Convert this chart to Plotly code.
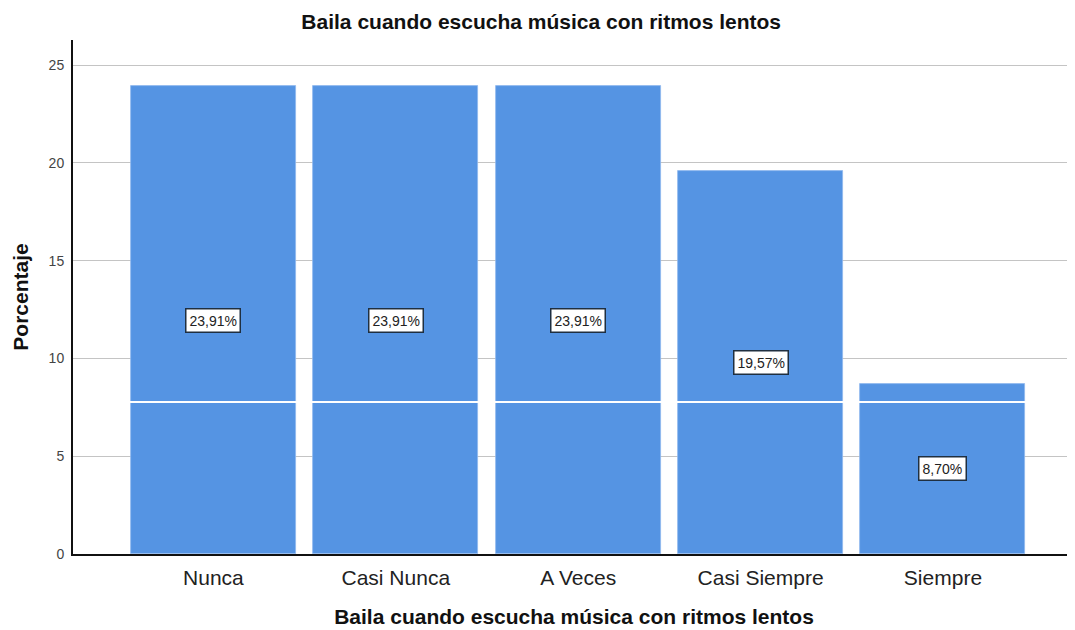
import plotly.graph_objects as go

categories = ["Nunca", "Casi Nunca", "A Veces", "Casi Siempre", "Siempre"]
values = [23.91, 23.91, 23.91, 19.57, 8.70]
labels = ["23,91%", "23,91%", "23,91%", "19,57%", "8,70%"]
title = "Baila cuando escucha música con ritmos lentos"

FONT = "Liberation Sans, Arial, sans-serif"
BAR = "#5594e3"

fig = go.Figure()
fig.add_trace(go.Bar(
    x=categories, y=values, width=0.905,
    marker=dict(color=BAR, line=dict(color="#8fb8ee", width=0.8)),
    hoverinfo="skip",
))

for c, v, t in zip(categories, values, labels):
    fig.add_annotation(
        x=c, y=v / 2, text=t, showarrow=False,
        font=dict(family=FONT, size=14, color="#222"),
        bgcolor="white", bordercolor="#1f2f40", borderwidth=1.5, borderpad=3,
    )

# white artifact line across the plot
fig.add_shape(type="line", xref="paper", x0=0, x1=1, yref="y", y0=7.77, y1=7.77,
              line=dict(color="white", width=2), layer="above")

fig.update_layout(
    width=1075, height=630,
    margin=dict(l=65, r=8, t=32, b=84),
    paper_bgcolor="white", plot_bgcolor="white",
    showlegend=False, bargap=0,
    title=dict(text="<b>" + title + "</b>", x=0.496, xanchor="center", y=0.978, yanchor="middle",
               font=dict(family=FONT, size=21, color="#111")),
    font=dict(family=FONT),
)
fig.update_xaxes(
    range=[-0.77, 4.724], showline=True, linecolor="#111", linewidth=2,
    layer="below traces", showgrid=False, ticks="", automargin=False,
    ticklabelstandoff=4,
    tickfont=dict(family=FONT, size=21, color="#222"),
    title=dict(text="<b>" + title + "</b>", font=dict(family=FONT, size=21, color="#111"), standoff=21),
)
fig.update_yaxes(
    range=[0, 26.28], tickvals=[0, 5, 10, 15, 20, 25], showline=True,
    linecolor="#111", linewidth=2, showgrid=True, gridcolor="#c4c4c4", gridwidth=1,
    zeroline=False, ticks="", ticklabelstandoff=4, automargin=False,
    tickfont=dict(family=FONT, size=14, color="#444"),
    title=dict(text="<b>Porcentaje</b>", font=dict(family=FONT, size=21, color="#111"), standoff=14),
)

fig.write_html("out.html")
